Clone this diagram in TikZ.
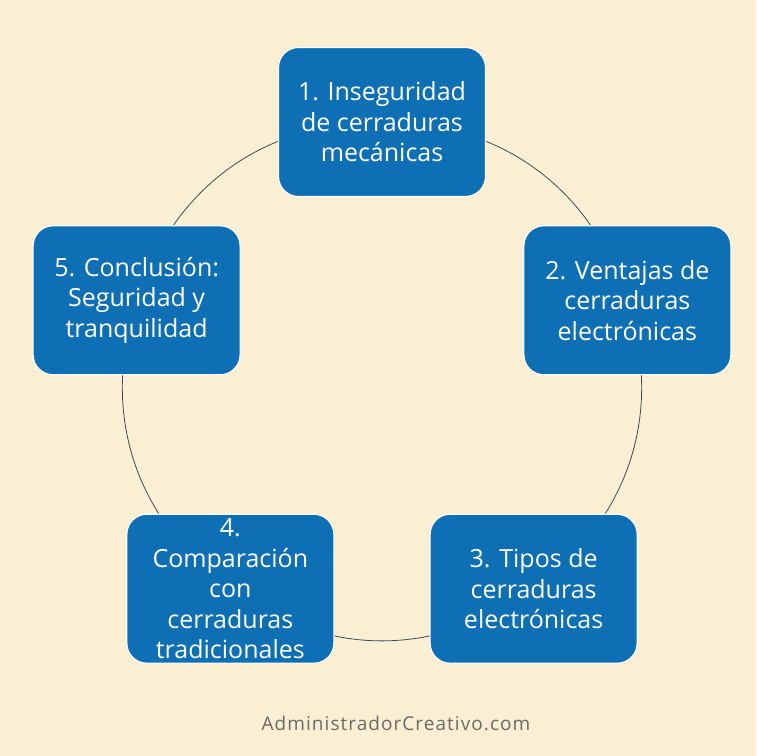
\documentclass[tikz,border=0pt]{standalone}
\usepackage{fontspec}
\setmainfont{Open Sans}
\usetikzlibrary{positioning,backgrounds,calc}
\definecolor{parchment}{HTML}{FAEFD3}
\definecolor{stepblue}{HTML}{0F6FB4}
\definecolor{ringgray}{HTML}{3C4A58}
\definecolor{markgray}{HTML}{6A6A6A}

\begin{document}
\begin{tikzpicture}[x=1bp, y=1bp]
    \tikzset{
      stepbox/.style = { fill = stepblue, draw = white, line width = 1.2bp,
        rounded corners = 20bp, minimum width = 207bp, minimum height = 149bp,
        text = white, align = center, inner sep = 0pt,
        font = \fontsize{25bp}{30.5bp}\selectfont },
      ring/.style = { ringgray, line width = 0.8bp },
    }
    \useasboundingbox (-382,-376) rectangle (374,380);

    \coordinate (hub) at (0,0);

    \foreach \a/\txt [count = \i] in {
        90/{1. Inseguridad\\de cerraduras\\mecánicas},
        18/{2. Ventajas de\\cerraduras\\electrónicas},
        -54/{3. Tipos de\\cerraduras\\electrónicas},
        -126/{4.\\Comparación\\con\\cerraduras\\tradicionales},
        162/{5. Conclusión:\\Seguridad y\\tranquilidad}}
        \node[stepbox] (stage-\i) at ($(hub)+(\a:258)$) {\txt};

    \begin{scope}[on background layer]
    % page
    \fill[parchment] (-382,-376) rectangle (374,380);
    \foreach \i [remember = \i as \j (initially 5)] in {1,...,5}
        \draw[ring] (stage-\j.center) to[bend left = 36] (stage-\i.center);
    \end{scope}

    \node[markgray, font = \fontsize{19bp}{21bp}\selectfont\addfontfeature{LetterSpace=5.5}]
        (site) at (14,-343) {AdministradorCreativo.com};
\end{tikzpicture}
\end{document}
